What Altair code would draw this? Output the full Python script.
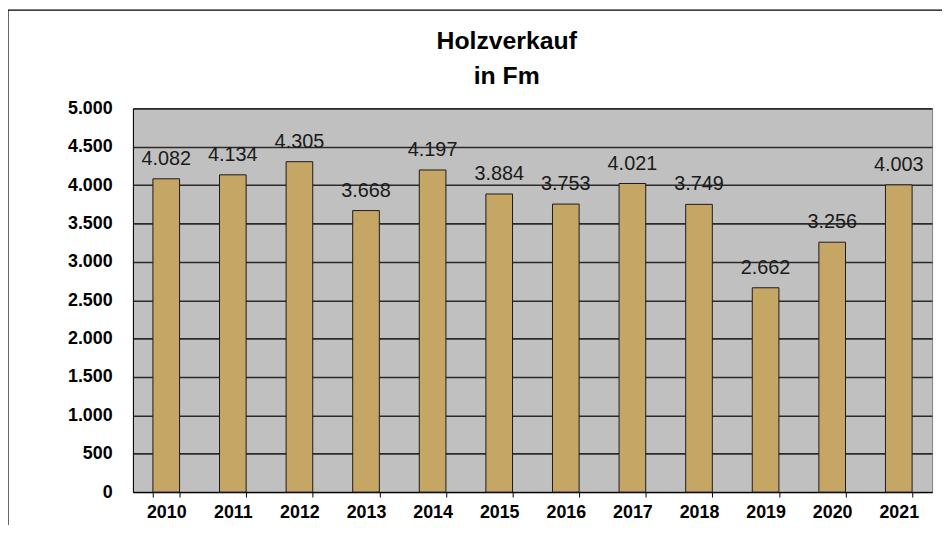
import altair as alt
import pandas as pd

years = ["2010", "2011", "2012", "2013", "2014", "2015", "2016", "2017", "2018", "2019", "2020", "2021"]
values = [4082, 4134, 4305, 3668, 4197, 3884, 3753, 4021, 3749, 2662, 3256, 4003]
labels = ["4.082", "4.134", "4.305", "3.668", "4.197", "3.884", "3.753", "4.021", "3.749", "2.662", "3.256", "4.003"]
title_lines = ["Holzverkauf", "in Fm"]
y_ticks = list(range(0, 5001, 500))

df = pd.DataFrame({"Jahr": years, "Fm": values, "label": labels})

W, H = 806, 387

x = alt.X("Jahr:N", sort=years, title=None,
          scale=alt.Scale(paddingInner=0.6, paddingOuter=0.3),
          axis=alt.Axis(labelAngle=0, labelFont="Liberation Sans", labelFontWeight="bold",
                        labelFontSize=18, labelColor="#000", tickBand="extent", ticks=True,
                        tickSize=5, tickColor="#000", domainColor="#000", domainWidth=1,
                        labelPadding=7, grid=False, labelBaseline="top"))
y = alt.Y("Fm:Q", title=None,
          scale=alt.Scale(domain=[0, 5000], nice=False),
          axis=alt.Axis(values=y_ticks, labelFont="Liberation Sans",
                        labelFontWeight="bold", labelFontSize=18, labelColor="#000",
                        labelExpr="replace(format(datum.value, ','), ',', '.')",
                        labelOverlap=False,
                        ticks=False, labelPadding=21, domainColor="#000", domainWidth=1,
                        grid=True, gridColor="#2b2b2b", gridWidth=1.6))

bars = alt.Chart(df).mark_bar(color="#C6A665", stroke="#1a1a1a", strokeWidth=1).encode(x=x, y=y)

text = alt.Chart(df).mark_text(dy=-20, baseline="middle", font="Liberation Sans",
                               fontSize=20, color="#1a1a1a").encode(
    x=x, y=y, text="label:N")

tdf = pd.DataFrame({"t": title_lines, "i": [0, 1]})
title1 = alt.Chart(tdf).transform_filter("datum.i == 0").mark_text(
    font="Liberation Sans", fontSize=25, fontWeight="bold", color="#000",
    align="center", baseline="alphabetic").encode(
    x=alt.value(W / 2 - 26), y=alt.value(-60), text="t:N")
title2 = alt.Chart(tdf).transform_filter("datum.i == 1").mark_text(
    font="Liberation Sans", fontSize=25, fontWeight="bold", color="#000",
    align="center", baseline="alphabetic").encode(
    x=alt.value(W / 2 - 26), y=alt.value(-25), text="t:N")

frame = alt.Chart(tdf).transform_filter("datum.i == 0").mark_rect(
    fill=None, stroke="#000", strokeWidth=1.2).encode(
    x=alt.value(-126), x2=alt.value(W + 14), y=alt.value(-99), y2=alt.value(H + 60))

chart = alt.layer(bars, text, title1, title2, frame).properties(
    width=W, height=H,
    autosize=alt.AutoSizeParams(type="none"),
    padding={"left": 126, "top": 99, "right": 10, "bottom": 31},
).configure_view(fill="#C0C0C0", stroke="#808080", strokeWidth=1)

chart.save("out.html", embed_options={"renderer": "svg", "actions": False})
